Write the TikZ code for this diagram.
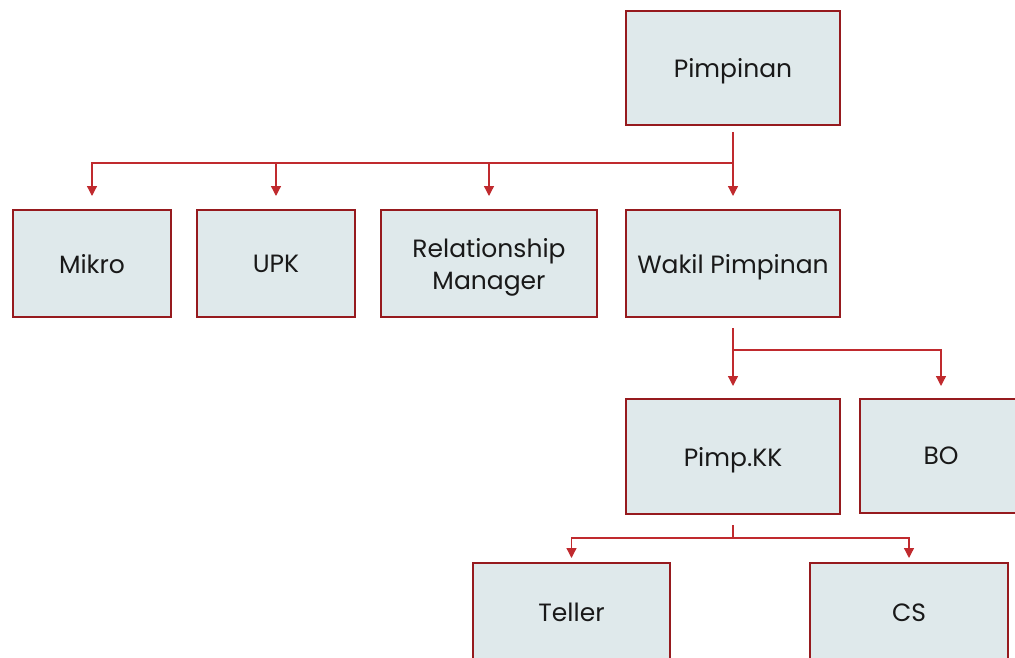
\documentclass[tikz,border=0pt]{standalone}
\usepackage{fontspec}
\setmainfont{Poppins}
\usetikzlibrary{arrows.meta}
\definecolor{boxline}{RGB}{150,26,30}
\definecolor{boxfill}{RGB}{223,233,235}
\definecolor{conn}{RGB}{192,42,46}
\definecolor{txt}{RGB}{25,25,25}
\tikzset{
  orgbox/.style={draw=boxline, line width=2pt, fill=boxfill, rectangle,
    inner sep=0pt, text=txt, font=\fontsize{25}{32}\selectfont, align=center,
    text depth=0pt},
  lbl/.style={text=txt, font=\fontsize{25}{32}\selectfont, inner sep=0pt, text depth=0pt, yshift=8pt},
  link/.style={draw=conn, line width=1.3pt},
  arr/.style={link, -{Triangle[length=10pt,width=10pt]}},
}
\begin{document}
\begin{tikzpicture}[x=1pt,y=-1pt]
\useasboundingbox (0,0) rectangle (1015,658);
\clip (0,0) rectangle (1015,658);
\node[orgbox, minimum width=214pt, minimum height=114pt] (pim) at (733,68) {Pimpinan};
\node[orgbox, minimum width=158pt, minimum height=107pt] (mikro) at (92,263.5) {Mikro};
\node[orgbox, minimum width=158pt, minimum height=107pt] (upk) at (276,263.5) {UPK};
\node[orgbox, minimum width=216pt, minimum height=107pt] (rm) at (489,263.5) {Relationship\\Manager};
\node[orgbox, minimum width=214pt, minimum height=107pt] (wakil) at (733,263.5) {Wakil Pimpinan};
\node[orgbox, minimum width=214pt, minimum height=115pt] (kk) at (733,456.5) {Pimp.KK};
\node[orgbox, minimum width=214pt, minimum height=114pt] (bo) at (967,456) {\hspace*{-52pt}BO};
\node[orgbox, minimum width=197pt, minimum height=115pt,
  label={[lbl]center:Teller}] (teller) at (571.5,620.5) {};
\node[orgbox, minimum width=198pt, minimum height=115pt,
  label={[lbl]center:CS}] (cs) at (909,620.5) {};

\coordinate (j1) at (733,163);
\draw[link] ([yshift=-6pt]pim.south) -- (j1);
\draw[arr] (j1) -| ([yshift=13pt]mikro.north);
\draw[arr] (j1) -| ([yshift=13pt]upk.north);
\draw[arr] (j1) -| ([yshift=13pt]rm.north);
\draw[arr] (j1) -- ([yshift=13pt]wakil.north);

\coordinate (j2) at (733,350);
\draw[link] ([yshift=-10pt]wakil.south) -- (j2);
\draw[arr] (j2) -- ([yshift=12pt]kk.north);
\draw[arr] (j2) -| ([yshift=12pt]bo.north -| 941,0);

\coordinate (j3) at (733,538);
\draw[link] ([yshift=-10pt]kk.south) -- (j3);
\draw[arr] (j3) -| ([yshift=4pt]teller.north);
\draw[arr] (j3) -| ([yshift=4pt]cs.north);
\end{tikzpicture}
\end{document}
